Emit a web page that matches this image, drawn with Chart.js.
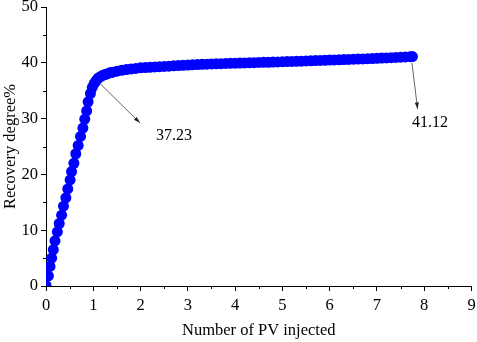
<!DOCTYPE html>
<html>
<head>
<meta charset="utf-8">
<script src="https://cdn.jsdelivr.net/npm/chart.js@4.4.1/dist/chart.umd.min.js"></script>
<style>
  html, body { margin: 0; padding: 0; background: #fff; }
  .chart-wrap { width: 477px; height: 342px; position: relative; }
</style>
</head>
<body>
<div class="chart-wrap"><canvas class="js-recovery"></canvas></div>
<script>
// PV injected (x) and recovery degree % (y)
const pvInjected = [
  0.00, 0.05, 0.085, 0.12, 0.155, 0.19, 0.24, 0.28, 0.33, 0.37, 0.42, 0.46,
  0.51, 0.54, 0.59, 0.63, 0.68, 0.73, 0.78, 0.82, 0.86, 0.89, 0.94, 0.98,
  1.02, 1.06, 1.10, 1.15, 1.20, 1.25, 1.30, 1.35, 1.40, 1.50, 1.60, 1.70,
  1.80, 1.90, 2.00, 2.10, 2.20, 2.30, 2.40, 2.50, 2.60, 2.70, 2.80, 2.90,
  3.00, 3.10, 3.20, 3.30, 3.40, 3.50, 3.60, 3.70, 3.80, 3.90, 4.00, 4.10,
  4.20, 4.30, 4.40, 4.50, 4.60, 4.70, 4.80, 4.90, 5.00, 5.10, 5.20, 5.30,
  5.40, 5.50, 5.60, 5.70, 5.80, 5.90, 6.00, 6.10, 6.20, 6.30, 6.40, 6.50,
  6.60, 6.70, 6.80, 6.90, 7.00, 7.10, 7.20, 7.30, 7.40, 7.50, 7.60, 7.70,
  7.75
];
const recovery = [
  0.1, 1.8, 3.5, 5.0, 6.5, 8.1, 9.7, 11.2, 12.7, 14.3, 15.8, 17.4,
  19.0, 20.5, 22.0, 23.7, 25.2, 26.8, 28.3, 29.9, 31.4, 33.0, 34.5, 35.6,
  36.3, 36.8, 37.23, 37.5, 37.75, 37.9, 38.05, 38.2, 38.3, 38.5, 38.65, 38.8,
  38.9, 39.0, 39.1, 39.15, 39.2, 39.25, 39.3, 39.35, 39.4, 39.45, 39.5, 39.55,
  39.6, 39.65, 39.68, 39.72, 39.75, 39.8, 39.82, 39.85, 39.88, 39.9, 39.93, 39.96,
  39.98, 40.0, 40.03, 40.06, 40.08, 40.1, 40.13, 40.16, 40.2, 40.22, 40.25, 40.28,
  40.3, 40.33, 40.36, 40.39, 40.42, 40.45, 40.48, 40.51, 40.54, 40.57, 40.6, 40.64,
  40.67, 40.7, 40.74, 40.77, 40.8, 40.84, 40.88, 40.92, 40.96, 41.0, 41.05, 41.09,
  41.12
];
const xTicks = [0, 1, 2, 3, 4, 5, 6, 7, 8, 9];
const yTicks = [0, 10, 20, 30, 40, 50];

// callouts: arrow from -> to, label position (data units)
const callouts = [
  { text: "37.23", from: [1.14, 36.3], to: [1.99, 29.2], label: [2.71, 26.9] },
  { text: "41.12", from: [7.74, 40.0], to: [7.86, 31.7], label: [8.12, 29.2] },
];

const serif = "'Liberation Serif', 'Times New Roman', serif";

const extras = {
  id: "extras",
  afterDraw(chart) {
    const { ctx, scales: { x, y } } = chart;
    ctx.save();
    // minor ticks
    ctx.strokeStyle = "#000";
    ctx.lineWidth = 1;
    ctx.beginPath();
    for (let i = 0; i < xTicks.length - 1; i++) {
      const px = Math.round(x.getPixelForValue(xTicks[i] + 0.5)) + 0.5;
      ctx.moveTo(px, y.bottom);
      ctx.lineTo(px, y.bottom + 3);
    }
    for (let i = 0; i < yTicks.length - 1; i++) {
      const py = Math.round(y.getPixelForValue(yTicks[i] + 5)) + 0.5;
      ctx.moveTo(x.left, py);
      ctx.lineTo(x.left - 3, py);
    }
    ctx.stroke();

    // arrows + labels
    ctx.font = "16px " + serif;
    ctx.textAlign = "center";
    ctx.textBaseline = "middle";
    callouts.forEach((c) => {
      const x1 = x.getPixelForValue(c.from[0]), y1 = y.getPixelForValue(c.from[1]);
      const x2 = x.getPixelForValue(c.to[0]), y2 = y.getPixelForValue(c.to[1]);
      ctx.strokeStyle = "#666";
      ctx.fillStyle = "#222";
      ctx.lineWidth = 1;
      ctx.beginPath();
      ctx.moveTo(x1, y1);
      ctx.lineTo(x2, y2);
      ctx.stroke();
      const a = Math.atan2(y2 - y1, x2 - x1);
      ctx.beginPath();
      ctx.moveTo(x2, y2);
      ctx.lineTo(x2 - 7 * Math.cos(a - 0.3), y2 - 7 * Math.sin(a - 0.3));
      ctx.lineTo(x2 - 7 * Math.cos(a + 0.3), y2 - 7 * Math.sin(a + 0.3));
      ctx.closePath();
      ctx.fill();
      ctx.fillStyle = "#000";
      ctx.fillText(c.text, x.getPixelForValue(c.label[0]), y.getPixelForValue(c.label[1]));
    });
    ctx.restore();
  },
};

const chartRecovery = function () {
  const canvas = document.querySelector(".js-recovery");

  new Chart(canvas, {
    type: "scatter",
    data: {
      datasets: [
        {
          data: pvInjected.map((v, i) => ({ x: v, y: recovery[i] })),
          backgroundColor: "#0000ff",
          borderColor: "#0000ff",
          pointRadius: 5.5,
          borderWidth: 0,
          showLine: false,
        },
      ],
    },
    options: {
      animation: false,
      responsive: true,
      maintainAspectRatio: false,
      layout: { padding: { top: 7, right: 5, left: 0, bottom: 0 } },
      scales: {
        x: {
          type: "linear",
          min: 0,
          max: 9,
          afterFit: (s) => { s.height = 56; s.paddingLeft = 0; s.paddingRight = 0; },
          border: { display: true, color: "#000", width: 1 },
          grid: { drawOnChartArea: false, drawTicks: true, tickLength: 5, color: "#000" },
          afterBuildTicks: (s) => { s.ticks = xTicks.map((v) => ({ value: v })); },
          ticks: { color: "#000", font: { family: serif, size: 16.5 }, padding: 5, maxRotation: 0 },
          title: {
            display: true,
            text: "Number of PV injected",
            color: "#000",
            font: { family: serif, size: 16.5 },
            padding: { top: 0, bottom: 1 },
          },
        },
        y: {
          min: 0,
          max: 50,
          afterFit: (s) => { s.width = 46; s.paddingTop = 0; s.paddingBottom = 0; },
          border: { display: true, color: "#000", width: 1 },
          grid: { drawOnChartArea: false, drawTicks: true, tickLength: 5, color: "#000" },
          afterBuildTicks: (s) => { s.ticks = yTicks.map((v) => ({ value: v })); },
          ticks: { color: "#000", font: { family: serif, size: 16.5 }, padding: 3 },
          title: {
            display: true,
            text: "Recovery degree%",
            color: "#000",
            font: { family: serif, size: 16.5 },
            padding: { top: 1, bottom: 0 },
          },
        },
      },
      plugins: {
        legend: { display: false },
        tooltip: { enabled: false },
      },
    },
    plugins: [extras],
  });
};

document.addEventListener("DOMContentLoaded", chartRecovery);
</script>
</body>
</html>
